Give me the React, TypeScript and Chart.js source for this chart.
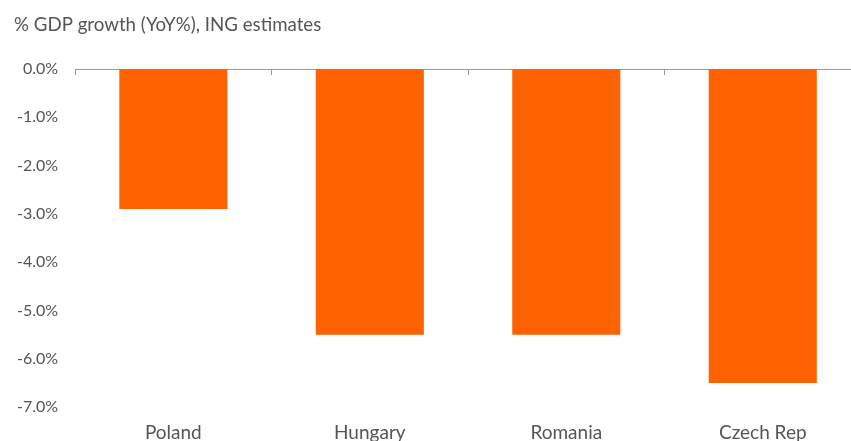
import React, { useEffect, useRef } from "react";
import { Chart, registerables } from "chart.js";

Chart.register(...registerables);

const categories = ["Poland", "Hungary", "Romania", "Czech Rep"];
const gdpGrowth = [-2.9, -5.5, -5.5, -6.5];
const titleText = "% GDP growth (YoY%), ING estimates";

const FONT = "Lato, 'Noto Sans', sans-serif";

const titlePlugin = {
  id: "leftTitle",
  afterDraw(chart: any) {
    const ctx = chart.ctx;
    ctx.save();
    ctx.font = `normal 18.7px ${FONT}`;
    ctx.fillStyle = "#555555";
    ctx.textAlign = "left";
    ctx.textBaseline = "middle";
    ctx.fillText(titleText, 14, 25);
    ctx.restore();
  },
};

export default function App() {
  const ref = useRef<HTMLCanvasElement | null>(null);
  useEffect(() => {
    if (!ref.current) return;
    const chart = new Chart(ref.current, {
      type: "bar",
      data: {
        labels: categories,
        datasets: [
          {
            data: gdpGrowth,
            backgroundColor: "#FF6200",
            borderWidth: 0,
            barPercentage: 0.55,
            categoryPercentage: 1,
          },
        ],
      },
      options: {
        responsive: false,
        animation: false,
        layout: { padding: { left: 0, right: 9, top: 69, bottom: 8 } },
        plugins: {
          legend: { display: false },
          tooltip: { enabled: false },
          title: { display: false },
        },
        scales: {
          x: {
            position: "bottom",
            grid: { display: false, drawTicks: false },
            border: { display: false },
            ticks: {
              color: "#555555",
              font: { family: FONT, size: 19 },
              padding: 14,
              maxRotation: 0,
            },
          },
          x2: {
            type: "category",
            labels: categories,
            position: { y: 0 },
            grid: {
              display: true,
              drawOnChartArea: false,
              drawTicks: true,
              tickLength: 5,
              color: "#999999",
              offset: true,
            },
            border: { display: true, color: "#999999", width: 1 },
            ticks: { display: false },
          },
          y: {
            min: -7,
            max: 0,
            grid: { display: false, drawTicks: false },
            border: { display: false },
            ticks: {
              stepSize: 1,
              color: "#555555",
              font: { family: FONT, size: 16 },
              padding: 17,
              callback: (v: any) => Number(v).toFixed(1) + "%",
            },
          },
        },
      },
      plugins: [titlePlugin],
    });
    return () => chart.destroy();
  }, []);
  return (
    <div
      style={{
        position: "fixed",
        left: 0,
        top: 0,
        width: 851,
        height: 441,
        overflow: "hidden",
        background: "#ffffff",
      }}
    >
      <canvas ref={ref} width={870} height={466} style={{ display: "block" }} />
    </div>
  );
}
